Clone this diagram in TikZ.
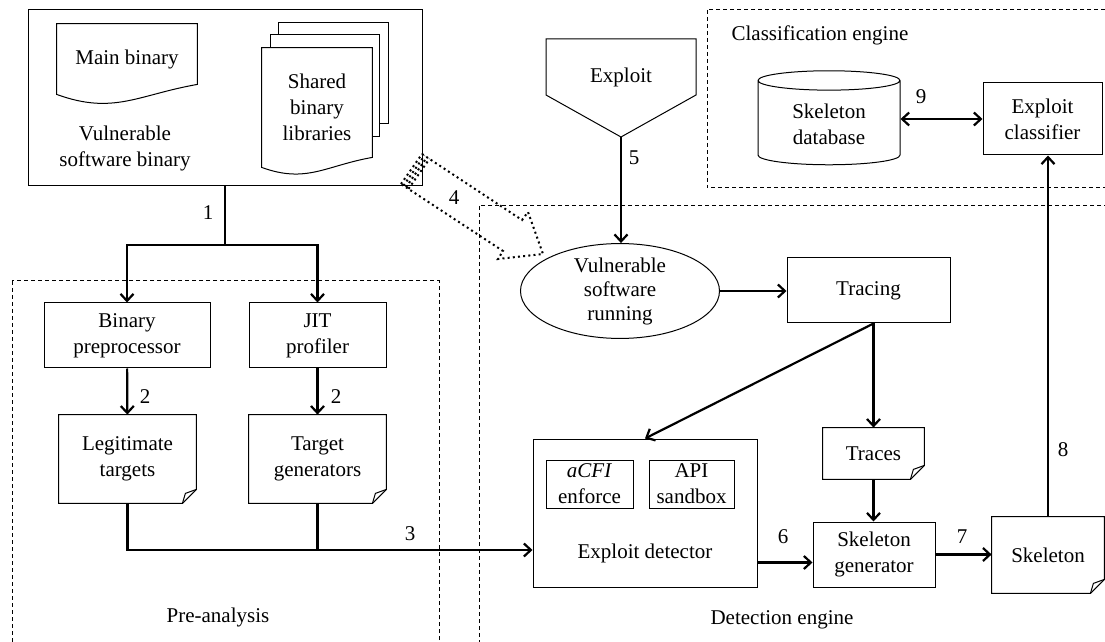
\documentclass[tikz,border=0pt]{standalone}
\usepackage{fontspec}
\setmainfont{Liberation Serif}
\usepackage{tikz}
\usetikzlibrary{arrows.meta, positioning, calc, shapes.geometric, backgrounds}

% page with a folded lower right corner
\newcommand{\foldcorner}[1]{%
  \draw[line width=0.5pt] (#1.north west) -- (#1.north east) -- ([yshift=7pt]#1.south east)
    -- ([xshift=-7pt]#1.south east) -- (#1.south west) -- cycle;
  \draw[line width=0.5pt] ([xshift=-7pt]#1.south east) -- ([xshift=-5.5pt,yshift=5pt]#1.south east)
    -- ([yshift=7pt]#1.south east);}
% page with a wavy lower edge
\newcommand{\wavedoc}[1]{%
  \draw[line width=0.5pt, fill=white] (#1.south west) -- (#1.north west) -- (#1.north east)
    -- ([yshift=5pt]#1.south east) to[out=190,in=-20,looseness=1.1] (#1.south west) -- cycle;}

\begin{document}
\begin{tikzpicture}[x=0.5pt, y=-0.5pt, font=\fontsize{10.5}{13}\selectfont,
    box/.style={draw, line width=0.5pt, align=center, inner sep=1pt},
    doc/.style={align=center, inner sep=1pt},
    arr/.style={line width=1.1pt, -{Straight Barb[length=3.5pt,width=6.5pt]}},
    link/.style={line width=1.1pt},
    region/.style={draw, line width=0.5pt, dash pattern=on 2pt off 1.5pt},
    num/.style={inner sep=1pt}]
  \clip (0,0) rectangle (1105,642);

  % engine regions
  \draw[region] (12,281) rectangle (439,660);
  \draw[region] (479,206) rectangle (1120,660);
  \draw[region] (707,10) rectangle (1120,188);
  \node (prelbl) at (218,617) {Pre-analysis};
  \node (detlbl) at (782,620) {Detection engine};
  \node (clslbl) at (820,35) {Classification engine};

  % vulnerable software binary
  \node[box, minimum width=197pt, minimum height=88pt] (vsb) at (225,98) {};
  \node[align=center] (vsbtext) at (125,148) {Vulnerable\\software binary};
  \node[doc, minimum width=70pt, minimum height=35pt] (mainbin) at (127,59) {Main binary};
  \node[doc, minimum width=55pt, minimum height=59.5pt] (libs) at (317,107.5) {Shared\\binary\\libraries};
  \begin{scope}[on background layer]
    \draw[line width=0.5pt, fill=white] ([shift={(8.5pt,12.5pt)}]libs.north west) rectangle ++(55pt,-50.5pt);
    \draw[line width=0.5pt, fill=white] ([shift={(4.5pt,6.5pt)}]libs.north west) rectangle ++(54.5pt,-51pt);
    \wavedoc{libs}
    \wavedoc{mainbin}
  \end{scope}

  % pre-analysis
  \node[box, minimum width=83pt, minimum height=32.5pt] (bp) at (127,335.5) {Binary\\preprocessor};
  \node[box, minimum width=68.5pt, minimum height=32.5pt] (jit) at (317.5,335.5) {JIT\\profiler};
  \node[doc, minimum width=68.5pt, minimum height=44pt] (lt) at (127.5,459) {Legitimate\\targets};
  \node[doc, minimum width=68.5pt, minimum height=44pt] (tg) at (317.5,459) {Target\\generators};
  \foldcorner{lt}
  \foldcorner{tg}

  % exploit input
  \node (exploit) at (621,77) {Exploit};
  \coordinate (extip) at ([yshift=-30pt]exploit.center);
  \draw[line width=0.5pt] ([shift={(-37.5pt,19pt)}]exploit.center) -- ([shift={(37.5pt,19pt)}]exploit.center)
    -- ([shift={(37.5pt,-9pt)}]exploit.center) -- (extip) -- ([shift={(-37.5pt,-9pt)}]exploit.center) -- cycle;

  % detection engine
  \node[draw, ellipse, line width=0.5pt, minimum width=99.5pt, minimum height=44.5pt, inner sep=0pt,
    align=center, font=\fontsize{10.5}{12}\selectfont] (vsr) at (620,291) {Vulnerable\\software\\running};
  \node[box, minimum width=81.5pt, minimum height=32.5pt] (tracing) at (868.5,290.5) {Tracing};
  \node[box, minimum width=112pt, minimum height=74pt] (ed) at (645,513) {};
  \node (edtext) at (645,553) {Exploit detector};
  \node[box, minimum width=43.5pt, minimum height=24pt] (acfi) at (589.5,484) {\textit{aCFI}\\enforce};
  \node[box, minimum width=42.5pt, minimum height=24pt] (api) at (691.5,484) {API\\sandbox};
  \node[doc, minimum width=50.5pt, minimum height=25.5pt] (traces) at (873.5,453.5) {Traces};
  \foldcorner{traces}
  \node[box, minimum width=61pt, minimum height=32.5pt] (sg) at (874,554.5) {Skeleton\\generator};
  \node[doc, minimum width=56pt, minimum height=38pt] (sk) at (1048,555) {Skeleton};
  \foldcorner{sk}

  % classification engine
  \node[draw, cylinder, shape border rotate=90, aspect=0.25, line width=0.5pt, minimum width=71pt,
    minimum height=47pt, align=center, inner sep=1pt] (db) at (829,124) {Skeleton\\database};
  \node[box, minimum width=59.5pt, minimum height=36pt] (ec) at (1042.5,119) {Exploit\\classifier};

  % data flow
  \coordinate (split) at (225,245);
  \draw[link] (vsb.south) -- (split);
  \draw[arr] (split) -| (bp.north);
  \draw[arr] (split) -| (jit.north);
  \draw[arr] (bp) -- (lt);
  \draw[arr] (jit) -- (tg);
  \coordinate (join3) at (317.5,550);
  \draw[link] (lt.south) |- (join3);
  \draw[link] (tg.south) -- (join3);
  \draw[arr] (join3) -- (join3 -| ed.west);
  \draw[arr] (extip) -- (extip |- vsr.north);
  \draw[arr] (vsr.east) -- (vsr.east -| tracing.west);
  \coordinate (tr) at (tracing.south -| traces.north);
  \draw[arr] (tr) -- (ed.north);
  \draw[arr] (tr) -- (traces.north);
  \draw[arr] (traces.south) -- (traces.south |- sg.north);
  \coordinate (in6) at ([yshift=-4pt]sg.west);
  \draw[arr] (in6 -| ed.east) -- (in6);
  \draw[arr] (sg.east) -- (sg.east -| sk.west);
  \draw[arr] (sk.north) -- (sk.north |- ec.south);
  \draw[line width=1.1pt, {Straight Barb[length=3.5pt,width=6.5pt]}-{Straight Barb[length=3.5pt,width=6.5pt]}]
    (ec.west -| db.east) -- (ec.west);

  % binary handed over to the running software
  \draw[line width=1pt, dash pattern=on 1pt off 1.6pt] (422,154) -- (522,220) -- (528,212) -- (543,254)
    -- (498,259) -- (503,251) -- (401,184);
  \foreach \k in {0,1,2,3}
    \draw[line width=1pt, dash pattern=on 1pt off 1.6pt] ($(401,184)+(2.5*\k,1.6*\k)$) -- ($(422,154)+(2.5*\k,1.6*\k)$);

  % step numbers
  \node[num] (n1) at (208,213) {1};
  \node[num] (n2a) at (145,397) {2};
  \node[num] (n2b) at (336,397) {2};
  \node[num] (n3) at (410,534) {3};
  \node[num] (n4) at (454,198) {4};
  \node[num] (n5) at (634,158) {5};
  \node[num] (n6) at (783,537) {6};
  \node[num] (n7) at (962,537) {7};
  \node[num] (n8) at (1063,450) {8};
  \node[num] (n9) at (921,97) {9};
\end{tikzpicture}
\end{document}
